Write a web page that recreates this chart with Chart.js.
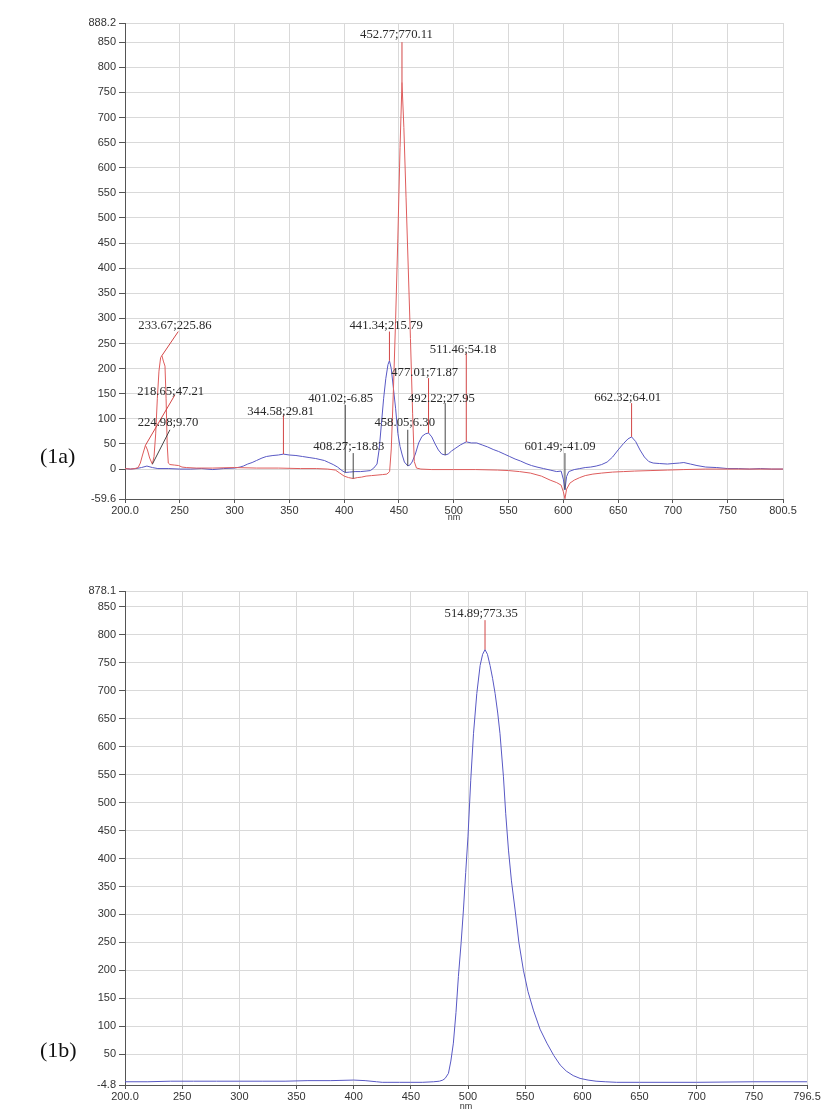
<!DOCTYPE html>
<html><head><meta charset="utf-8">
<script src="https://cdn.jsdelivr.net/npm/chart.js@4/dist/chart.umd.min.js"></script>
<style>
html,body{margin:0;padding:0;background:#fff;width:822px;height:1111px;overflow:hidden;position:relative;}
#w1{position:absolute;left:0;top:0;width:822px;height:530px;}
#w2{position:absolute;left:0;top:560px;width:822px;height:551px;}
.tag{position:absolute;font-family:'Liberation Serif','Times New Roman',serif;font-size:22px;color:#111;line-height:1;}
</style></head><body>
<div id="w1"><canvas id="c1"></canvas></div>
<div id="w2"><canvas id="c2"></canvas></div>
<div class="tag" style="left:40px;top:445px">(1a)</div>
<div class="tag" style="left:40px;top:1039px">(1b)</div>
<script>
// ---------- (1a) blue spectrum ----------
const wl1aBlue = [200,205,210,215,220,225,230,240,250,260,270,280,290,300,305,308,312,316,320,325,329,335,340,344.58,350,356,362,368,374,378,382,386,390,394,398,401.02,405,410,415,420,424,427,430,432,434,436,438,440,441.34,443,445,447,449,451,453,455,458.05,460,462,465,468,471,474,477.01,480,483,486,489,492.22,495,498,502,506,511.46,516,521,526,531,536,541,546,551,556,561,566,571,576,582,588,594,598,600,601.49,603,605,610,615,620,625,630,635,640,645,650,655,659,662.32,666,670,674,678,682,688,695,700,706,710,716,722,730,740,750,760,770,780,790,800.5];
const val1aBlue = [1,0,1,3,6,3,1,1,0,0,1,-1,1,2,4,6,10,13,17,22,25,27,28,29.81,28,27,25,23,21,19,17,13,9,4,-3,-6.85,-6,-5,-5,-4,-3,2,10,40,90,140,180,208,215.79,200,160,120,71,45,28,14,6.30,8,14,30,52,65,70,71.87,64,50,38,30,27.95,30,36,42,48,54.18,52,52,48,44,39,35,30,25,20,16,11,7,4,1,-2,-5,-4,-20,-41.09,-15,-5,-1,1,3,4,6,9,14,24,38,51,60,64.01,55,38,24,15,12,11,10,11,12,13,10,7,4,3,1,1,0,1,0,0];
// ---------- (1a) red spectrum ----------
const wl1aRed = [200,205,209,212,214,216,218.65,220.5,222.5,224.98,226.5,228,229.5,231,232.5,233.67,235,236.5,237.5,238.5,239.5,241,245,249,252,256,265,280,300,320,340,360,375,385,392,396,400,404,408.27,412,416,420,425,430,435,439,441.5,443,445,447,449,451,452.77,454.5,456.5,458.5,460.5,462.5,464,466,470,480,500,520,540,550,560,570,580,588,594,598,600,601.5,603,606,610,615,620,627,635,645,655,665,680,695,710,730,760,800.5];
const val1aRed = [1,0,1,3,12,28,47.21,38,22,9.70,25,70,140,195,222,225.86,215,205,140,50,12,9,8,7,4,3,2,2,3,2,2,1,1,0,-2,-8,-14,-17,-18.83,-17,-16,-14,-13,-12,-11,-10,-5,40,160,300,460,640,770.11,680,540,400,260,110,15,2,0,-1,-1,-1,-2,-3,-5,-8,-14,-22,-27,-32,-45,-59,-40,-28,-22,-17,-13,-10,-8,-6,-5,-4,-3,-2,-1,0,0,0];
// ---------- (1b) spectrum ----------
const wl1b = [200,220,240,260,280,300,320,340,360,380,400,410,420,425,430,440,450,460,470,475,478,480,482.9,485,487.2,489.5,491.6,494,496,498,500,502.4,504.8,507.7,510.6,512.8,514.89,517,519.3,521.5,523.7,526,528,531,533,535.4,538,541.2,544.5,548.5,552.5,557.2,563,569,575,580.6,586,592,598,605,612,620,630,650,700,750,796.5];
const val1b = [1,1,2,2,2,2,2,2,3,3,4,3,1,0,0,0,0,0,1,2,4,7,16,38,70,125,189,250,308,375,440,540,623,695,745,765,773.35,765,745,722,695,660,623,546,480,415,360,308,250,200,162,129,95,70,48,31,20,12,7,4,2,1,0,0,0,1,1];

// ---------- axis ticks ----------
const xTicks1a = [200,250,300,350,400,450,500,550,600,650,700,750,800.5];
const xTickLabels1a = ['200.0','250','300','350','400','450','500','550','600','650','700','750','800.5'];
const yTicks1a = [-59.6,0,50,100,150,200,250,300,350,400,450,500,550,600,650,700,750,800,850,888.2];
const yTickLabels1a = ['-59.6','0','50','100','150','200','250','300','350','400','450','500','550','600','650','700','750','800','850','888.2'];
const xTicks1b = [200,250,300,350,400,450,500,550,600,650,700,750,796.5];
const xTickLabels1b = ['200.0','250','300','350','400','450','500','550','600','650','700','750','796.5'];
const yTicks1b = [-4.8,50,100,150,200,250,300,350,400,450,500,550,600,650,700,750,800,850,878.1];
const yTickLabels1b = ['-4.8','50','100','150','200','250','300','350','400','450','500','550','600','650','700','750','800','850','878.1'];

// ---------- peak annotations (data units) ----------
const peakText1a = ['452.77;770.11','233.67;225.86','218.65;47.21','224.98;9.70','344.58;29.81','401.02;-6.85','408.27;-18.83','441.34;215.79','458.05;6.30','477.01;71.87','492.22;27.95','511.46;54.18','601.49;-41.09','662.32;64.01'];
const peakKind1a = ['max','max','max','min','max','min','min','max','min','max','min','max','min','max'];
const peakX1a = [452.77,233.67,218.65,224.98,344.58,401.02,408.27,441.34,458.05,477.01,492.22,511.46,601.49,662.32];
const peakY1a = [770.11,225.86,47.21,9.70,29.81,-6.85,-18.83,215.79,6.30,71.87,27.95,54.18,-41.09,64.01];
const leadX1a = [452.77,248.6,245.6,241,344.58,401.02,408.27,441.34,458.05,477.01,492.22,511.46,601.49,662.32];
const leadY1a = [850,273.8,147.9,78.2,108.1,128,31.8,273.8,78.2,181.1,131.3,230.8,31.8,131.3];
const textX1a = [447.8,245.6,241.7,239.2,342.1,396.8,404.3,438.3,455.3,473.5,488.8,508.5,597,658.7];
const textY1a = [864.3,285.2,153.8,92.1,114.6,139.9,45,285.2,92.7,191,139.9,237.4,43.8,141.3];

const peakText1b = ['514.89;773.35'];
const peakKind1b = ['max'];
const peakX1b = [514.89];
const peakY1b = [773.35];
const leadX1b = [514.89];
const leadY1b = [826];
const textX1b = [511.6];
const textY1b = [838];

const RED = 'rgb(222,92,92)';
const BLUE = 'rgb(88,88,196)';
const MARK_MAX = 'rgb(210,70,70)';
const MARK_MIN = 'rgb(70,70,70)';

function pts(xs, ys){ return xs.map((x,i)=>({x:x, y:ys[i]})); }

function peaksPlugin(P){
  return {
    id:'peaks'+Math.random(),
    afterDatasetsDraw(chart){
      const ctx = chart.ctx, xs = chart.scales.x, ys = chart.scales.y, a = chart.chartArea;
      ctx.save();
      ctx.beginPath(); ctx.rect(a.left, a.top, a.right-a.left, a.bottom-a.top); ctx.clip();
      ctx.lineWidth = 1;
      P.text.forEach((t,i)=>{
        ctx.strokeStyle = P.kind[i]==='max' ? MARK_MAX : MARK_MIN;
        ctx.beginPath();
        ctx.moveTo(xs.getPixelForValue(P.px[i]), ys.getPixelForValue(P.py[i]));
        ctx.lineTo(xs.getPixelForValue(P.lx[i]), ys.getPixelForValue(P.ly[i]));
        ctx.stroke();
      });
      ctx.restore();
      ctx.save();
      ctx.font = '12.7px "Liberation Serif", "Times New Roman", serif';
      ctx.fillStyle = '#2a2a2a';
      ctx.textAlign = 'center';
      ctx.textBaseline = 'middle';
      P.text.forEach((t,i)=>{
        ctx.fillText(t, xs.getPixelForValue(P.tx[i]), ys.getPixelForValue(P.ty[i]));
      });
      ctx.restore();
    }
  };
}

function scales(xmin,xmax,xT,xL,ymin,ymax,yT,yL,xAxisH,titlePad){
  const tickFont = {family:'"Liberation Sans", Arial, sans-serif', size:11};
  return {
    x:{type:'linear', min:xmin, max:xmax,
      afterBuildTicks:s=>{ s.ticks = xT.map(v=>({value:v})); },
      afterFit:s=>{ s.height = xAxisH; s.paddingLeft = 0; s.paddingRight = 0; },
      ticks:{autoSkip:false, maxRotation:0, minRotation:0, padding:1, color:'#333', font:tickFont, callback:(v,i)=>xL[i]},
      grid:{color:'#d9d9d9', lineWidth:1, tickLength:4, tickColor:'#555', drawTicks:true},
      border:{color:'#555', width:1},
      title:{display:true, text:'nm', color:'#333', font:{family:'"Liberation Sans", Arial, sans-serif', size:9, lineHeight:1}, padding:{top:0, bottom:titlePad}}
    },
    y:{type:'linear', min:ymin, max:ymax,
      afterBuildTicks:s=>{ s.ticks = yT.map(v=>({value:v})); },
      afterFit:s=>{ s.width = 125; },
      ticks:{autoSkip:false, padding:3, color:'#333', font:tickFont, callback:(v,i)=>yL[i]},
      grid:{color:'#d9d9d9', lineWidth:1, tickLength:6, tickColor:'#555', drawTicks:true},
      border:{color:'#555', width:1}
    }
  };
}

const common = {responsive:true, maintainAspectRatio:false, animation:false, events:[],
  plugins:{legend:{display:false}, tooltip:{enabled:false}}};

new Chart(document.getElementById('c1'), {
  type:'line',
  data:{datasets:[
    {data:pts(wl1aRed, val1aRed), borderColor:RED, borderWidth:1, pointRadius:0, tension:0},
    {data:pts(wl1aBlue, val1aBlue), borderColor:BLUE, borderWidth:1, pointRadius:0, tension:0}
  ]},
  options:Object.assign({}, common, {
    layout:{padding:{left:0, right:39, top:23, bottom:0}},
    scales:scales(200,800.5,xTicks1a,xTickLabels1a,-59.6,888.2,yTicks1a,yTickLabels1a,31,7.5)
  }),
  plugins:[peaksPlugin({text:peakText1a, kind:peakKind1a, px:peakX1a, py:peakY1a, lx:leadX1a, ly:leadY1a, tx:textX1a, ty:textY1a})]
});

new Chart(document.getElementById('c2'), {
  type:'line',
  data:{datasets:[
    {data:pts(wl1b, val1b), borderColor:BLUE, borderWidth:1, pointRadius:0, tension:0}
  ]},
  options:Object.assign({}, common, {
    layout:{padding:{left:0, right:15, top:31, bottom:0}},
    scales:scales(200,796.5,xTicks1b,xTickLabels1b,-4.8,878.1,yTicks1b,yTickLabels1b,26,0)
  }),
  plugins:[peaksPlugin({text:peakText1b, kind:peakKind1b, px:peakX1b, py:peakY1b, lx:leadX1b, ly:leadY1b, tx:textX1b, ty:textY1b})]
});
</script>
</body></html>
